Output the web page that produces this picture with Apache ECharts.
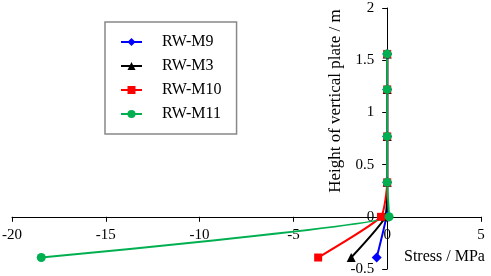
<!DOCTYPE html>
<html>
<head>
<meta charset="utf-8">
<script src="https://cdn.jsdelivr.net/npm/echarts@6/dist/echarts.min.js"></script>
<style>
  html, body { margin: 0; padding: 0; background: #fff; }
  #main { width: 491px; height: 276px; }
</style>
</head>
<body>
<div id="main"></div>
<script>
// heights of the measuring points (m)
var heights = [1.56, 1.22, 0.77, 0.33, 0, -0.39];
// stress at each height (MPa)
var m9  = [0, 0, 0, 0, -0.05, -0.56];
var m3  = [0, 0, 0, 0, -0.1, -1.92];
var m10 = [0, 0, 0, 0, -0.33, -3.68];
var m11 = [0, 0, 0, 0, 0.1, -18.44];
var names = ['RW-M9', 'RW-M3', 'RW-M10', 'RW-M11'];
var xTicks = [-20, 5, 5];   // min, max, interval
var yTicks = [-0.5, 2, 0.5];

function pairs(stress) {
  return stress.map(function (s, i) { return [s, heights[i]]; });
}

var font = '"Liberation Serif", "Times New Roman", serif';
var chart = echarts.init(document.getElementById('main'));

var option = {
  animation: false,
  textStyle: { fontFamily: font, color: '#000' },
  grid: { left: 12, right: 10, top: 8, bottom: 7, containLabel: false, outerBoundsMode: 'none' },
  legend: {
    orient: 'vertical',
    left: 105,
    top: 22,
    padding: [12, 15, 12, 15],
    itemWidth: 21,
    itemHeight: 10,
    itemGap: 8,
    borderColor: '#888',
    borderWidth: 1.5,
    textStyle: { fontFamily: font, fontSize: 16, color: '#000', padding: [0, 0, 0, 15] },
    data: names
  },
  xAxis: {
    type: 'value',
    min: xTicks[0], max: xTicks[1], interval: xTicks[2],
    axisLine: { onZero: false, lineStyle: { color: '#000', width: 1 } },
    axisTick: { length: 5, lineStyle: { color: '#000' } },
    axisLabel: { fontFamily: font, fontSize: 15, color: '#000', margin: 11,
                 hideOverlap: false, showMinLabel: true, showMaxLabel: true },
    splitLine: { show: false }
  },
  yAxis: {
    type: 'value',
    min: yTicks[0], max: yTicks[1], interval: yTicks[2],
    axisLine: { onZero: false, lineStyle: { color: '#000', width: 1 } },
    axisTick: { length: 5, lineStyle: { color: '#000' } },
    axisLabel: { fontFamily: font, fontSize: 15, color: '#000', margin: 13,
                 hideOverlap: false, showMinLabel: true, showMaxLabel: true },
    splitLine: { show: false }
  },
  graphic: [
    {
      type: 'text', left: 404, top: 249,
      style: { text: 'Stress / MPa', font: '16px ' + font, fill: '#000' }
    },
    {
      type: 'text', x: 336, y: 101, rotation: Math.PI / 2,
      style: { text: 'Height of vertical plate / m', font: '17px ' + font, fill: '#000',
               align: 'center', verticalAlign: 'middle' }
    }
  ],
  series: [
    { name: names[0], type: 'line', data: pairs(m9), smooth: 0.15, symbol: 'diamond', symbolSize: 10,
      color: '#0000ff', lineStyle: { width: 2 } },
    { name: names[1], type: 'line', data: pairs(m3), smooth: 0.15, symbol: 'triangle', symbolSize: 9,
      color: '#000000', lineStyle: { width: 2 } },
    { name: names[2], type: 'line', data: pairs(m10), smooth: 0.15, symbol: 'rect', symbolSize: 8,
      color: '#ff0000', lineStyle: { width: 2 } },
    { name: names[3], type: 'line', data: pairs(m11), smooth: 0.12, symbol: 'circle', symbolSize: 9,
      color: '#00b050', lineStyle: { width: 2 } }
  ]
};
chart.setOption(option);

// move both axes (with their labels) so they cross at (0, 0)
var origin = chart.convertToPixel({ gridIndex: 0 }, [0, 0]);
var corner = chart.convertToPixel({ gridIndex: 0 }, [xTicks[0], yTicks[0]]);
chart.setOption({
  xAxis: { offset: -(corner[1] - origin[1]) },
  yAxis: { offset: -(origin[0] - corner[0]) }
});
</script>
</body>
</html>
